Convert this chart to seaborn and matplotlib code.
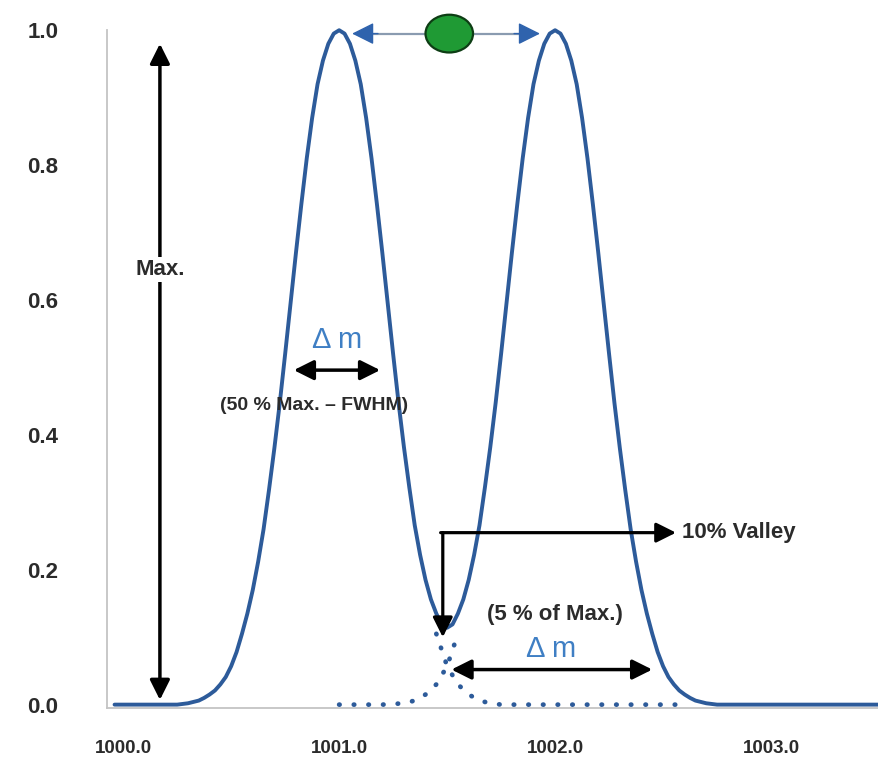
import matplotlib
matplotlib.use("Agg")
import matplotlib.pyplot as plt
from matplotlib.patches import Ellipse
import seaborn as sns

# ==================== DATA ====================

# combined signal (solid line)
signal_x = [999.96,
            1000.250, 1000.275, 1000.300, 1000.325, 1000.350, 1000.375, 1000.400, 1000.425,
            1000.450, 1000.475, 1000.500, 1000.525, 1000.550, 1000.575, 1000.600, 1000.625,
            1000.650, 1000.675, 1000.700, 1000.725, 1000.750, 1000.775, 1000.800, 1000.825,
            1000.850, 1000.875, 1000.900, 1000.925, 1000.950, 1000.975, 1001.000, 1001.025,
            1001.050, 1001.075, 1001.100, 1001.125, 1001.150, 1001.175, 1001.200, 1001.225,
            1001.250, 1001.275, 1001.300, 1001.325, 1001.350, 1001.375, 1001.400, 1001.425,
            1001.450, 1001.475, 1001.500, 1001.525, 1001.550, 1001.575, 1001.600, 1001.625,
            1001.650, 1001.675, 1001.700, 1001.725, 1001.750, 1001.775, 1001.800, 1001.825,
            1001.850, 1001.875, 1001.900, 1001.925, 1001.950, 1001.975, 1002.000, 1002.025,
            1002.050, 1002.075, 1002.100, 1002.125, 1002.150, 1002.175, 1002.200, 1002.225,
            1002.250, 1002.275, 1002.300, 1002.325, 1002.350, 1002.375, 1002.400, 1002.425,
            1002.450, 1002.475, 1002.500, 1002.525, 1002.550, 1002.575, 1002.600, 1002.625,
            1002.650, 1002.675, 1002.700, 1002.725, 1002.750,
            1003.50]
signal_y = [0.000,
            0.000, 0.001, 0.002, 0.004, 0.006, 0.010, 0.015, 0.021,
            0.030, 0.041, 0.057, 0.078, 0.105, 0.135, 0.170, 0.212,
            0.260, 0.318, 0.380, 0.447, 0.520, 0.595, 0.670, 0.742,
            0.810, 0.870, 0.920, 0.955, 0.980, 0.995, 1.000, 0.995,
            0.980, 0.955, 0.920, 0.870, 0.810, 0.742, 0.670, 0.595,
            0.520, 0.448, 0.382, 0.322, 0.266, 0.222, 0.185, 0.156,
            0.135, 0.119, 0.114, 0.119, 0.135, 0.156, 0.185, 0.222,
            0.266, 0.322, 0.382, 0.448, 0.520, 0.595, 0.670, 0.742,
            0.810, 0.870, 0.920, 0.955, 0.980, 0.995, 1.000, 0.995,
            0.980, 0.955, 0.920, 0.870, 0.810, 0.742, 0.670, 0.595,
            0.520, 0.447, 0.380, 0.318, 0.260, 0.212, 0.170, 0.135,
            0.105, 0.078, 0.057, 0.041, 0.030, 0.021, 0.015, 0.010,
            0.006, 0.004, 0.002, 0.001, 0.000,
            0.000]

# single peak tails (dotted) under the valley
right_tail_x = [1001.00, 1001.20, 1001.25, 1001.30, 1001.35, 1001.40, 1001.45, 1001.50, 1001.55]
right_tail_y = [0.000, 0.000, 0.001, 0.002, 0.006, 0.015, 0.030, 0.057, 0.105]
left_tail_x = [1001.45, 1001.50, 1001.55, 1001.60, 1001.65, 1001.70, 1001.75, 1002.62]
left_tail_y = [0.105, 0.057, 0.030, 0.015, 0.006, 0.002, 0.000, 0.000]

x_label_ticks = [1000.0, 1001.0, 1002.0, 1003.0]
x_minor_ticks = [1000.5, 1001.5, 1002.5]
y_ticks = [0.0, 0.2, 0.4, 0.6, 0.8, 1.0]

# ==================== STYLE ====================

sns.set_style("white")
plt.rcParams['font.family'] = ['Liberation Sans', 'DejaVu Sans']

BLUE = "#2d5b9a"
LIGHT_BLUE = "#3f7fc4"
TEXT = "#2b2b2b"

fig = plt.figure(figsize=(8.79, 7.70), dpi=100)
ax = fig.add_axes([107 / 879, 62 / 770, 772 / 879, 698 / 770])

# ==================== CURVES ====================

sns.lineplot(x=signal_x, y=signal_y, ax=ax, color=BLUE, linewidth=2.8,
             sort=False, estimator=None)
for tx, ty in [(right_tail_x, right_tail_y), (left_tail_x, left_tail_y)]:
    ax.plot(tx, ty, color=BLUE, linewidth=3.4, linestyle=(0, (0.1, 3.0)),
            dash_capstyle='round')

ax.set_xlim(999.925, 1003.5)
ax.set_ylim(-0.005, 1.03)

# ==================== AXES ====================

for side in ['top', 'right']:
    ax.spines[side].set_visible(False)
for side in ['left', 'bottom']:
    ax.spines[side].set_color("#c4c4c4")
    ax.spines[side].set_linewidth(1.3)
ax.spines['left'].set_bounds(-0.005, 1.0)

ax.set_yticks(y_ticks)
ax.set_yticklabels([f"{v:.1f}" for v in y_ticks])
ax.set_xticks(x_label_ticks)
ax.set_xticklabels([f"{v:.1f}" for v in x_label_ticks])
ax.set_xticks(x_minor_ticks, minor=True)
ax.tick_params(axis='y', direction='out', length=17, width=1.2, color="#bdbdbd",
               pad=18, labelsize=16, labelcolor=TEXT)
ax.tick_params(axis='x', which='both', direction='out', length=9, width=1.2,
               color="#d0d0d0", pad=14, labelsize=13.5, labelcolor=TEXT)
for lab in ax.get_xticklabels() + ax.get_yticklabels():
    lab.set_fontweight('bold')

# ==================== ANNOTATIONS ====================

black_arrow = dict(arrowstyle='<|-|>', color='black', lw=2.5,
                   mutation_scale=30, shrinkA=0, shrinkB=0)
black_head = dict(arrowstyle='-|>', color='black', lw=2.3,
                  mutation_scale=30, shrinkA=0, shrinkB=0)

# Max. height arrow
ax.annotate('', xy=(1000.17, 0.98), xytext=(1000.17, 0.007), arrowprops=black_arrow)
ax.text(1000.17, 0.645, "Max.", ha='center', va='center', fontsize=16,
        fontweight='bold', color=TEXT,
        bbox=dict(facecolor='white', edgecolor='none', pad=1.5))

# peak distance arrow with the green marker
ax.plot([1001.1, 1001.9], [0.995, 0.995], color="#8a9bb0", lw=1.6, clip_on=False)
ax.annotate('', xy=(1001.06, 0.995), xytext=(1001.18, 0.995), annotation_clip=False,
            arrowprops=dict(arrowstyle='-|>', color="#2f63ad", lw=1.0,
                            mutation_scale=34, shrinkA=0, shrinkB=0))
ax.annotate('', xy=(1001.93, 0.995), xytext=(1001.81, 0.995), annotation_clip=False,
            arrowprops=dict(arrowstyle='-|>', color="#2f63ad", lw=1.0,
                            mutation_scale=34, shrinkA=0, shrinkB=0))
ax.add_patch(Ellipse((1001.51, 0.995), 0.22, 0.056, facecolor="#1f9a34",
                     edgecolor="#0d3d14", lw=1.6, clip_on=False, zorder=5))

# FWHM
ax.text(1000.99, 0.540, "Δ m", ha='center', va='center', fontsize=21, color=LIGHT_BLUE)
ax.annotate('', xy=(1000.79, 0.496), xytext=(1001.19, 0.496), arrowprops=black_arrow)
ax.text(1000.885, 0.444, "(50 % Max. – FWHM)", ha='center', va='center',
        fontsize=14, fontweight='bold', color=TEXT)

# 10% valley
ax.annotate('', xy=(1001.48, 0.10), xytext=(1001.48, 0.255), arrowprops=black_head)
ax.annotate('', xy=(1002.56, 0.255), xytext=(1001.47, 0.255), arrowprops=black_head)
ax.text(1002.59, 0.255, "10% Valley", ha='left', va='center', fontsize=16,
        fontweight='bold', color=TEXT)

# 5% of max resolution
ax.text(1002.0, 0.133, "(5 % of Max.)", ha='center', va='center', fontsize=16,
        fontweight='bold', color=TEXT)
ax.text(1001.98, 0.083, "Δ m", ha='center', va='center', fontsize=21, color=LIGHT_BLUE)
ax.annotate('', xy=(1001.52, 0.052), xytext=(1002.45, 0.052), arrowprops=black_arrow)

fig.savefig("out.png", dpi=100)
